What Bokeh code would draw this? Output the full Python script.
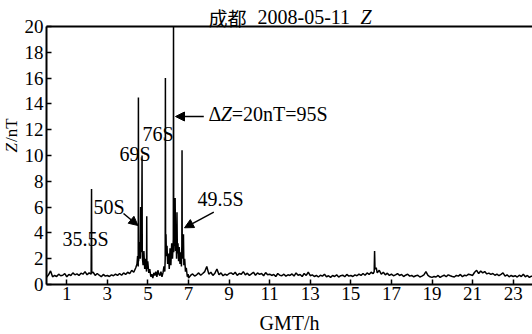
from bokeh.plotting import figure
from bokeh.models import Label, Arrow, NormalHead, FixedTicker, Range1d, LinearAxis
from bokeh.embed import file_html
from bokeh.resources import INLINE

# ---- data ----
t_hours = [
    0.0, 0.1, 0.2, 0.3, 0.4, 0.5, 0.6, 0.7, 0.8, 0.9,
    1.0, 1.1, 1.2, 1.3, 1.4, 1.5, 1.6, 1.7, 1.8, 1.9,
    2.0, 2.1, 2.2, 2.22, 2.23, 2.3, 2.4, 2.5, 2.6, 2.7, 2.8, 2.9,
    3.0, 3.1, 3.2, 3.3, 3.4, 3.5, 3.6, 3.7, 3.8, 3.9,
    4.0, 4.1, 4.2, 4.3, 4.4,
    4.46, 4.49, 4.52, 4.53, 4.54, 4.57, 4.60, 4.62, 4.64, 4.66,
    4.69, 4.71, 4.72, 4.76, 4.80, 4.84, 4.88, 4.93, 4.94, 4.95,
    4.99, 5.04, 5.09, 5.14, 5.19, 5.24, 5.29, 5.34, 5.39, 5.44,
    5.49, 5.54, 5.59, 5.64, 5.69, 5.74, 5.79, 5.83, 5.85, 5.86,
    5.87, 5.89, 5.91, 5.94, 5.97, 6.01, 6.05, 6.09, 6.13, 6.17,
    6.21, 6.25, 6.26, 6.27, 6.30, 6.32, 6.34, 6.36, 6.39, 6.41,
    6.43, 6.45, 6.48, 6.51, 6.54, 6.58, 6.62, 6.65, 6.67, 6.68,
    6.69, 6.72, 6.75, 6.77, 6.81, 6.85, 6.89, 6.94, 6.98,
    7.0, 7.1, 7.2, 7.3, 7.4, 7.5, 7.6, 7.7, 7.8, 7.9, 8.0,
    8.1, 8.2, 8.3, 8.4, 8.5, 8.6, 8.7, 8.8, 8.9, 9.0,
    9.1, 9.2, 9.3, 9.4, 9.5, 9.6, 9.7, 9.8, 9.9, 10.0,
    10.1, 10.2, 10.3, 10.4, 10.5, 10.6, 10.7, 10.8, 10.9, 11.0,
    11.1, 11.2, 11.3, 11.4, 11.5, 11.6, 11.7, 11.8, 11.9, 12.0,
    12.1, 12.2, 12.3, 12.4, 12.5, 12.6, 12.7, 12.8, 12.9, 13.0,
    13.1, 13.2, 13.3, 13.4, 13.5, 13.6, 13.7, 13.8, 13.9, 14.0,
    14.1, 14.2, 14.3, 14.4, 14.5, 14.6, 14.7, 14.8, 14.9, 15.0,
    15.1, 15.2, 15.3, 15.4, 15.5, 15.6, 15.7, 15.8, 15.9, 16.0,
    16.1, 16.15, 16.17, 16.19, 16.25, 16.3, 16.4, 16.5, 16.6, 16.7, 16.8, 16.9, 17.0,
    17.1, 17.2, 17.3, 17.4, 17.5, 17.6, 17.7, 17.8, 17.9, 18.0,
    18.1, 18.2, 18.3, 18.4, 18.5, 18.6, 18.7, 18.8, 18.9, 19.0,
    19.1, 19.2, 19.3, 19.4, 19.5, 19.6, 19.7, 19.8, 19.9, 20.0,
    20.1, 20.2, 20.3, 20.4, 20.5, 20.6, 20.7, 20.8, 20.9, 21.0,
    21.1, 21.2, 21.3, 21.4, 21.5, 21.6, 21.7, 21.8, 21.9, 22.0,
    22.1, 22.2, 22.3, 22.4, 22.5, 22.6, 22.7, 22.8, 22.9, 23.0,
    23.1, 23.2, 23.3, 23.4, 23.5, 23.6, 23.7, 23.8, 23.9, 24.0,
]
z_nT = [
    0.55, 0.75, 1.05, 0.6, 0.7, 0.62, 0.8, 0.68, 0.72, 0.85,
    0.6, 0.78, 0.7, 0.9, 0.75, 0.82, 0.7, 0.88, 0.8, 1.0,
    0.75, 0.9, 0.8, 7.4, 0.9, 0.95, 0.7, 0.85, 0.72, 0.6, 0.78, 0.65,
    0.7, 0.62, 0.75, 0.68, 0.8, 0.7, 0.85, 0.72, 0.9, 0.78,
    0.95, 0.85, 1.1, 0.95, 1.3,
    1.6, 2.2, 1.4, 14.5, 1.8, 2.8, 3.3, 2.0, 6.0, 2.5,
    3.0, 10.0, 2.2, 1.5, 2.6, 1.2, 2.0, 1.0, 5.3, 1.2,
    1.8, 0.9, 1.2, 0.6, 0.8, 0.5, 0.9, 0.7, 1.0, 0.6,
    1.1, 0.8, 0.7, 1.0, 0.6, 0.9, 1.4, 1.0, 2.0, 16.0,
    2.5, 3.9, 2.2, 3.0, 1.6, 2.4, 1.2, 2.8, 1.5, 3.2,
    2.0, 3.5, 20.0, 2.5, 4.0, 3.0, 6.7, 2.6, 4.2, 2.0,
    5.6, 2.4, 3.2, 1.8, 2.9, 1.6, 2.5, 1.4, 3.0, 10.4,
    2.0, 2.8, 3.9, 1.5, 2.0, 1.0, 1.3, 0.6, 0.8,
    0.5, 0.7, 0.82, 0.65, 0.75, 0.9, 0.72, 0.85, 1.0, 1.4, 0.8,
    0.95, 0.7, 0.88, 1.2, 0.75, 0.9, 0.68, 0.8, 0.72, 0.85,
    0.9, 0.78, 0.95, 0.7, 0.85, 0.8, 1.0, 0.75, 0.88, 0.7,
    0.82, 0.95, 0.72, 0.9, 0.78, 0.85, 0.68, 0.92, 0.75, 0.8,
    0.7, 0.78, 0.62, 0.85, 0.72, 0.68, 0.8, 0.65, 0.75, 0.7,
    0.82, 0.65, 0.9, 0.72, 0.78, 0.62, 0.85, 0.7, 0.95, 0.68,
    0.75, 0.62, 0.7, 0.58, 0.72, 0.65, 0.8, 0.6, 0.68, 0.55,
    0.7, 0.62, 0.75, 0.58, 0.68, 0.72, 0.6, 0.78, 0.65, 0.7,
    0.62, 0.75, 0.68, 0.8, 0.7, 0.85, 0.72, 0.9, 0.78, 0.95,
    0.85, 1.0, 2.6, 1.2, 1.3, 0.9, 1.1, 0.8, 0.95, 0.75, 0.88, 0.7, 0.8,
    0.68, 0.75, 0.85, 0.7, 0.78, 0.62, 0.72, 0.8, 0.65, 0.7,
    0.6, 0.68, 0.72, 0.58, 0.65, 0.75, 1.0, 0.7, 0.6, 0.55,
    0.62, 0.58, 0.7, 0.55, 0.65, 0.72, 0.6, 0.75, 0.68, 0.62,
    0.58, 0.7, 0.65, 0.78, 0.6, 0.72, 0.68, 0.8, 0.75, 0.7,
    0.95, 1.1, 0.85, 1.05, 0.9, 1.0, 0.82, 0.88, 0.78, 0.85,
    0.72, 0.8, 0.68, 0.78, 0.9, 0.65, 0.75, 0.6, 0.7, 0.62,
    0.68, 0.58, 0.72, 0.62, 0.8, 0.6, 0.7, 0.55, 0.65, 0.6,
]
x_ticks = [1, 3, 5, 7, 9, 11, 13, 15, 17, 19, 21, 23]
y_ticks = [0, 2, 4, 6, 8, 10, 12, 14, 16, 18, 20]
x_span = (0, 24)
y_span = (0, 20)

SERIF = "'Liberation Serif', 'Times New Roman', serif"
CJK = "'Noto Sans CJK SC', sans-serif"

W, H = 532, 334
# plot-area geometry (canvas pixels): x=0 at 46 px, 20.29 px/hour; y=0 at 284 px, 12.9 px/nT
X0, PXH = 46.0, 20.29
Y0, PXV = 284.0, 12.9

# the frame fills the whole canvas; axes are pinned at x=0 / y=0
p = figure(width=W, height=H, output_backend="svg", toolbar_location=None,
           x_range=Range1d(-X0 / PXH, (W - X0) / PXH),
           y_range=Range1d(-(H - Y0) / PXV, Y0 / PXV),
           min_border=0)
p.title.visible = False
p.outline_line_color = None
p.grid.visible = False
p.background_fill_color = "white"
p.border_fill_color = "white"

p.line(t_hours, z_nT, color="black", line_width=1.5)

p.xaxis.fixed_location = 0
p.xaxis.bounds = x_span
p.yaxis.fixed_location = 0
p.yaxis.bounds = y_span
for ax, ticks in ((p.xaxis, x_ticks), (p.yaxis, y_ticks)):
    ax.ticker = FixedTicker(ticks=ticks)
    ax.minor_tick_line_color = None
    ax.major_tick_in = 5
    ax.major_tick_out = 0
    ax.major_tick_line_width = 1.5
    ax.axis_line_width = 2
    ax.axis_line_color = "black"
    ax.major_tick_line_color = "black"
    ax.major_label_text_font = SERIF
    ax.major_label_text_font_size = "19px"
    ax.major_label_text_color = "black"
p.xaxis.major_label_standoff = 2
p.yaxis.major_label_standoff = 3

# top border line of the plot box
top = LinearAxis(fixed_location=y_span[1], bounds=x_span, ticker=FixedTicker(ticks=[]),
                 axis_line_width=2, axis_line_color="black",
                 major_tick_line_color=None, minor_tick_line_color=None,
                 major_label_text_font_size="0px")
p.add_layout(top, "above")


def lab(cx, cy, text, size=20, font=SERIF, style="normal", align="left", rotated=False):
    # (cx, cy): canvas pixels of the text's start/baseline, measured from the top-left
    off = 0.325 * size  # compensates the renderer's baseline placement
    if rotated:
        x, y, angle = cx - off, H - cy, 1.5708
    else:
        x, y, angle = cx, H - cy + off, 0.0
    p.add_layout(Label(x=x, y=y, x_units="screen", y_units="screen", text=text,
                       text_font=font, text_font_size=f"{size}px", text_font_style=style,
                       text_align=align, text_baseline="alphabetic", angle=angle,
                       text_color="black"))


# title
lab(208, 23, "成都", font=CJK, size=19)
lab(257, 23, "2008-05-11")
lab(360, 23, "Z", style="italic")

# axis titles
lab(17, 152, "Z", size=17, style="italic", rotated=True)
lab(17, 141.5, "/nT", size=17, rotated=True)
lab(289, 329, "GMT/h", align="center")

# annotations
lab(62, 245, "35.5S")
lab(93, 213, "50S")
lab(119, 160, "69S")
lab(142, 140, "76S")
lab(208, 120, "Δ")
lab(220.2, 120, "Z", style="italic")
lab(231.3, 120, "=20nT=95S")
lab(197, 205, "49.5S")

for (x0, y0, x1, y1) in ((123, 213, 137.5, 225),
                         (203.3, 116, 175, 116),
                         (213.3, 211.7, 184, 227.3)):
    p.add_layout(Arrow(x_start=x0, y_start=H - y0, x_end=x1, y_end=H - y1,
                       start_units="screen", end_units="screen",
                       line_width=1.5, line_color="black",
                       end=NormalHead(size=9, fill_color="black", line_color="black")))

open("out.html", "w").write(file_html(p, INLINE))
